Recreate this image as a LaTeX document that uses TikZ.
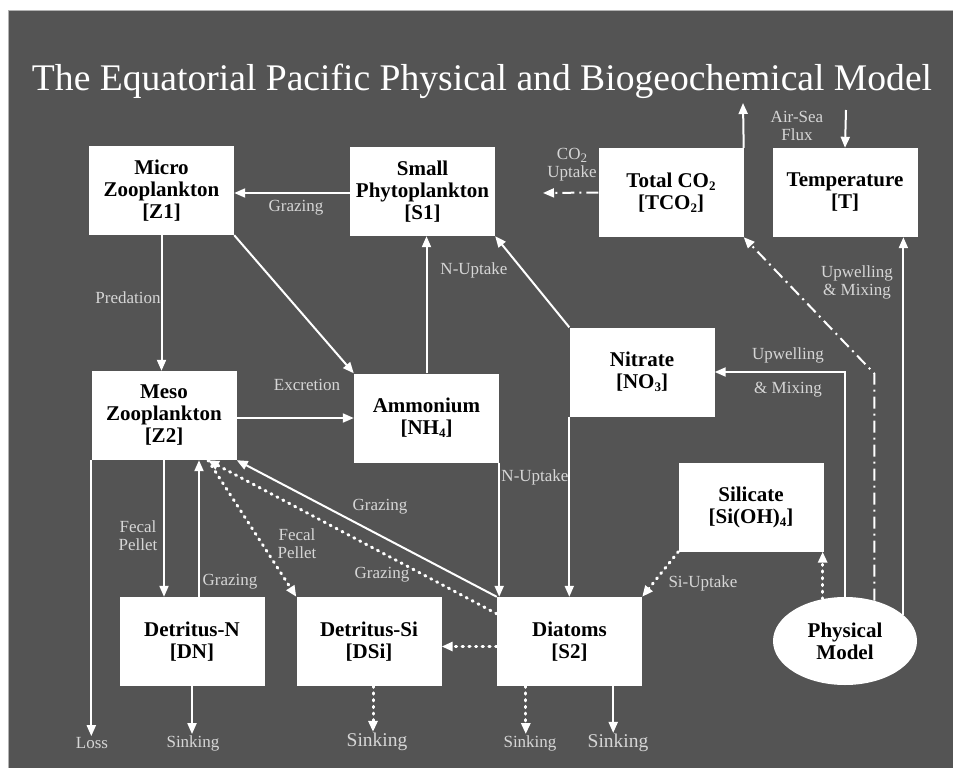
\documentclass[tikz,border=0pt]{standalone}
\usepackage{fontspec}
\setmainfont{Liberation Serif}
\usetikzlibrary{arrows.meta,calc,shapes.geometric}
\definecolor{bgc}{RGB}{84,84,84}
\definecolor{lab}{RGB}{214,214,214}
\newcommand\lowsub[1]{\raisebox{-0.35ex}{\fontsize{13}{13}\selectfont #1}}
\begin{document}
\begin{tikzpicture}[x=1pt,y=-1pt,
  box/.style={rectangle, fill=white, minimum width=145pt, minimum height=89pt, inner sep=0pt, align=center, font=\fontsize{21}{22}\selectfont\bfseries, text=black},
  lbl/.style={text=lab, font=\fontsize{17}{18}\selectfont, align=center, inner sep=1pt},
  biglbl/.style={lbl, font=\fontsize{19.5}{20}\selectfont},
  flow/.style={draw=white, line width=2pt, -{Triangle[length=11pt,width=9pt]}},
  dots/.style={flow, line width=3pt, line cap=round, dash pattern=on 1.2pt off 5.5pt},
  dashdot/.style={flow, dash pattern=on 12pt off 5pt on 2pt off 5pt}]
\fill[white] (0,0) rectangle (953,768);
\useasboundingbox (0,0) rectangle (953,768);
\fill[bgc] (8,10) rectangle (953,768);
\draw[gray!60, line width=0.8pt] (8,768) -- (8,10) -- (953,10);

% title
\node[text=white, font=\fontsize{37.6}{38}\selectfont, anchor=base, inner sep=0pt] (title) at (482,90) {The Equatorial Pacific Physical and Biogeochemical Model};

% boxes
\node[box] (Z1) at (161.5,190.5) {Micro\\Zooplankton\\{[Z1]}};
\node[box] (S1) at (422.5,191.5) {Small\\Phytoplankton\\{[S1]}};
\node[box] (TCO2) at (671,192.5) {Total CO\lowsub{2}\\{[TCO\lowsub{2}]}};
\node[box] (T) at (845,192.5) {Temperature\\{[T]}};
\node[box] (NO3) at (642,372) {Nitrate\\{[NO\lowsub{3}]}};
\node[box] (Z2) at (164,415.5) {Meso\\Zooplankton\\{[Z2]}};
\node[box] (NH4) at (426.5,418) {Ammonium\\{[NH\lowsub{4}]}};
\node[box] (Si) at (751,507) {Silicate\\{[Si(OH)\lowsub{4}]}};
\node[box] (DN) at (192,641.5) {Detritus-N\\{[DN]}};
\node[box] (DSi) at (369,641.5) {Detritus-Si\\{[DSi]}};
\node[box] (S2) at (569.5,641.5) {Diatoms\\{[S2]}};
\node[ellipse, fill=white, minimum width=144pt, minimum height=88pt, inner sep=0pt, align=center, font=\fontsize{21}{22}\selectfont\bfseries] (Phys) at (845,641) {Physical\\Model};

% labels
\node[lbl] (lGraz1) at (296,208) {Grazing};
\node[lbl] (lPred) at (128,298) {Predation};
\node[lbl] (lNup1) at (474,270) {N-Uptake};
\node[lbl] (lCO2) at (572,165) {CO\lowsub{2}\\Uptake};
\node[lbl] (lAir) at (797,126) {Air-Sea\\Flux};
\node[lbl] (lUpT) at (857,282) {Upwelling\\\& Mixing};
\node[lbl] (lUpN1) at (788,355) {Upwelling};
\node[lbl] (lUpN2) at (788,390) {\& Mixing};
\node[lbl] (lExc) at (307,385) {Excretion};
\node[lbl] (lNup2) at (535,477) {N-Uptake};
\node[lbl] (lGraz2) at (380,507) {Grazing};
\node[lbl] (lFec1) at (138,536) {Fecal\\Pellet};
\node[lbl] (lFec2) at (297,544) {Fecal\\Pellet};
\node[lbl] (lGraz3) at (230,582) {Grazing};
\node[lbl] (lGraz4) at (382,575) {Grazing};
\node[lbl] (lSiup) at (703,583) {Si-Uptake};
\node[lbl] (loss) at (92,743) {Loss};
\node[lbl] (sink1) at (193,743) {Sinking};
\node[biglbl] (sink2) at (377,742) {Sinking};
\node[lbl] (sink3) at (530,743) {Sinking};
\node[biglbl] (sink4) at (618,743) {Sinking};

\coordinate (co2end) at (543,193);
\coordinate (co2up) at (743,103);
\coordinate (fluxtop) at (846,110);
\coordinate (z2b) at ($(Z2.south)+(44,0)$);
\coordinate (dnup) at ($(DN.north)+(7,0)$);
\coordinate (dsis) at ($(DSi.south)+(4,0)$);
\coordinate (s2a) at ($(S2.south west)+(29,0)$);
\coordinate (s2b) at ($(S2.south east)+(-29,0)$);
\coordinate (s2w) at ($(S2.west)+(0,5)$);
\coordinate (dsie) at ($(DSi.east)+(0,5)$);
\coordinate (s2g) at ($(S2.north west)+(0,17)$);

% connectors
\draw[flow] (S1.west |- 0,193) -- (Z1.east |- 0,193);
\draw[flow] (Z1.south) -- (Z1.south |- Z2.north);
\draw[flow] (Z1.south east) -- (NH4.north west);
\draw[flow] (NH4.north) -- (NH4.north |- S1.south);
\draw[flow] (NO3.north west) -- (S1.south east);
\draw[dashdot] (TCO2.west) -- (co2end);
\draw[flow] (TCO2.north east) -- (co2up);
\draw[flow] (fluxtop) -- (T.north);
\draw[flow] (Phys.24) -- (Phys.24 |- T.south);
\draw[dashdot] (Phys.54) -- ++(0,-227) -- (TCO2.south east);
\draw[flow] (Phys.north) -- (Phys.north |- NO3.east) -- (NO3.east);
\draw[dots] (Phys.118) -- (Phys.118 |- Si.south);
\draw[dots] (Si.south west) -- (S2.north east);
\draw[flow] (NO3.south west) -- (NO3.south west |- S2.north);
\draw[flow] (NH4.south east) -- (NH4.south east |- S2.north);
\draw[flow] (S2.north west) -- (Z2.south east);
\draw[dots] (s2g) -- (z2b);
\draw[dots] (z2b) -- (DSi.north west);
\draw[flow] (Z2.south) -- (Z2.south |- DN.north);
\draw[flow] (dnup) -- (dnup |- Z2.south);
\draw[flow] (Z2.south west) -- (Z2.south west |- loss.north);
\draw[flow] (Z2.east |- NH4.west) -- (NH4.west);
\draw[flow] (DN.south) -- (DN.south |- sink1.north);
\draw[dots] (dsis) -- (dsis |- sink2.north);
\draw[dots] (s2w) -- (dsie);
\draw[dots] (s2a) -- (s2a |- sink3.north);
\draw[flow] (s2b) -- (s2b |- sink4.north);
\end{tikzpicture}
\end{document}
